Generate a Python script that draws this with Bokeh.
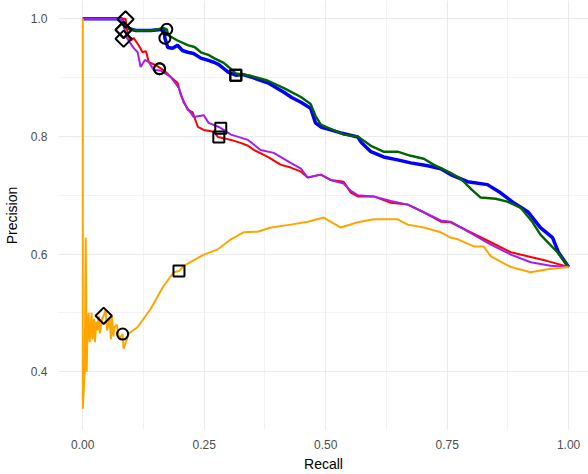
import math
from bokeh.plotting import figure
from bokeh.models import Range1d, FixedTicker
from bokeh.embed import file_html
from bokeh.resources import INLINE

# Precision-recall curves for five models
blue_recall = [0, 0.080, 0.088, 0.109, 0.140, 0.167, 0.169, 0.175, 0.185, 0.195, 0.205, 0.216, 0.228,
               0.243, 0.255, 0.270, 0.280, 0.300, 0.315, 0.330, 0.346, 0.381, 0.400, 0.414, 0.430,
               0.449, 0.469, 0.479, 0.490, 0.510, 0.531, 0.566, 0.574, 0.593, 0.619, 0.648, 0.675,
               0.710, 0.737, 0.757, 0.792, 0.833, 0.860, 0.887, 0.916, 0.942, 0.967, 0.979, 1.0]
blue_precision = [1.0, 1.0, 0.985, 0.980, 0.980, 0.982, 0.967, 0.951, 0.950, 0.955, 0.946, 0.943, 0.941,
                  0.933, 0.930, 0.926, 0.922, 0.909, 0.904, 0.905, 0.901, 0.891, 0.882, 0.875, 0.866,
                  0.858, 0.848, 0.823, 0.816, 0.811, 0.806, 0.799, 0.789, 0.774, 0.765, 0.760, 0.755,
                  0.750, 0.745, 0.735, 0.723, 0.718, 0.704, 0.687, 0.672, 0.645, 0.628, 0.603, 0.578]

green_recall = [0, 0.080, 0.088, 0.109, 0.140, 0.167, 0.173, 0.176, 0.195, 0.216, 0.230, 0.243, 0.260,
                0.270, 0.290, 0.300, 0.315, 0.346, 0.380, 0.414, 0.449, 0.469, 0.479, 0.490, 0.510,
                0.537, 0.566, 0.593, 0.619, 0.648, 0.675, 0.702, 0.722, 0.757, 0.778, 0.800, 0.819,
                0.850, 0.874, 0.901, 0.926, 0.942, 0.977, 1.0]
green_precision = [1.0, 1.0, 0.985, 0.980, 0.980, 0.984, 0.982, 0.972, 0.963, 0.955, 0.952, 0.943, 0.938,
                   0.933, 0.925, 0.918, 0.907, 0.903, 0.895, 0.882, 0.867, 0.855, 0.835, 0.820, 0.813,
                   0.803, 0.800, 0.784, 0.774, 0.774, 0.767, 0.762, 0.752, 0.738, 0.728, 0.710, 0.696,
                   0.694, 0.689, 0.679, 0.654, 0.633, 0.603, 0.578]

red_recall = [0, 0.088, 0.093, 0.099, 0.105, 0.115, 0.123, 0.130, 0.136, 0.150, 0.160, 0.170, 0.181,
              0.195, 0.202, 0.216, 0.226, 0.237, 0.249, 0.270, 0.278, 0.290, 0.305, 0.325, 0.340,
              0.352, 0.381, 0.407, 0.428, 0.449, 0.463, 0.490, 0.510, 0.537, 0.551, 0.566, 0.599,
              0.634, 0.669, 0.702, 0.737, 0.757, 0.798, 0.840, 0.881, 0.922, 0.957, 1.0]
red_precision = [1.0, 1.0, 0.970, 0.963, 0.967, 0.955, 0.943, 0.945, 0.926, 0.921, 0.916, 0.910, 0.901,
                 0.891, 0.870, 0.845, 0.841, 0.816, 0.811, 0.808, 0.799, 0.797, 0.794, 0.789, 0.784,
                 0.777, 0.765, 0.752, 0.747, 0.740, 0.730, 0.735, 0.726, 0.723, 0.705, 0.698, 0.698,
                 0.687, 0.684, 0.671, 0.655, 0.654, 0.637, 0.620, 0.603, 0.595, 0.588, 0.578]

purple_recall = [0, 0.080, 0.091, 0.105, 0.113, 0.119, 0.128, 0.136, 0.146, 0.160, 0.181, 0.198, 0.208,
                 0.228, 0.249, 0.259, 0.280, 0.290, 0.305, 0.340, 0.366, 0.393, 0.428, 0.449, 0.463,
                 0.490, 0.510, 0.537, 0.551, 0.566, 0.599, 0.634, 0.669, 0.702, 0.737, 0.757, 0.798,
                 0.840, 0.881, 0.922, 0.963, 1.0]
purple_precision = [1.0, 1.0, 0.967, 0.950, 0.943, 0.918, 0.930, 0.926, 0.913, 0.912, 0.901, 0.882, 0.857,
                    0.833, 0.836, 0.823, 0.816, 0.811, 0.803, 0.794, 0.777, 0.772, 0.755, 0.745, 0.730,
                    0.735, 0.726, 0.720, 0.708, 0.700, 0.698, 0.690, 0.684, 0.671, 0.657, 0.655, 0.636,
                    0.616, 0.599, 0.586, 0.580, 0.578]

orange_recall = [0, 0, 0.004, 0.006, 0.008, 0.010, 0.012, 0.014, 0.016, 0.018, 0.020, 0.023, 0.025,
                 0.028, 0.030, 0.033, 0.035, 0.040, 0.043, 0.047, 0.050, 0.055, 0.058, 0.060, 0.063,
                 0.065, 0.070, 0.075, 0.082, 0.084, 0.095, 0.113, 0.140, 0.165, 0.187, 0.198, 0.208,
                 0.249, 0.278, 0.305, 0.331, 0.360, 0.387, 0.428, 0.463, 0.496, 0.531, 0.566, 0.599,
                 0.648, 0.669, 0.702, 0.737, 0.757, 0.772, 0.805, 0.825, 0.840, 0.881, 0.922, 0.957,
                 1.0]
orange_precision = [1.0, 0.337, 0.400, 0.628, 0.400, 0.480, 0.500, 0.450, 0.470, 0.500, 0.455, 0.490, 0.450,
                    0.485, 0.470, 0.495, 0.465, 0.490, 0.495, 0.505, 0.470, 0.490, 0.455, 0.495, 0.460,
                    0.475, 0.480, 0.455, 0.464, 0.439, 0.465, 0.476, 0.507, 0.544, 0.569, 0.571, 0.580,
                    0.599, 0.608, 0.625, 0.637, 0.638, 0.645, 0.650, 0.655, 0.662, 0.645, 0.654, 0.659,
                    0.659, 0.650, 0.645, 0.637, 0.628, 0.625, 0.613, 0.613, 0.596, 0.578, 0.569, 0.574,
                    0.578]

# Threshold markers (recall, precision) for each curve
diamond_recall = [0.088, 0.084, 0.084, 0.084, 0.043]
diamond_precision = [0.999, 0.981, 0.981, 0.966, 0.495]
circle_recall = [0.173, 0.169, 0.158, 0.158, 0.082]
circle_precision = [0.982, 0.967, 0.915, 0.915, 0.464]
square_recall = [0.315, 0.315, 0.280, 0.284, 0.198]
square_precision = [0.904, 0.904, 0.799, 0.814, 0.571]

x_ticks = [0, 0.25, 0.5, 0.75, 1.0]
x_tick_labels = ["0.00", "0.25", "0.50", "0.75", "1.00"]
y_ticks = [0.4, 0.6, 0.8, 1.0]
y_tick_labels = ["0.4", "0.6", "0.8", "1.0"]

p = figure(width=588, height=474, output_backend="svg", toolbar_location=None,
           x_range=Range1d(-0.05, 1.041), y_range=Range1d(0.30, 1.031),
           min_border_left=58, min_border_right=0, min_border_top=0, min_border_bottom=42)
p.outline_line_color = None
p.background_fill_color = "white"

p.xaxis.ticker = FixedTicker(ticks=x_ticks, minor_ticks=[0.125, 0.375, 0.625, 0.875])
p.yaxis.ticker = FixedTicker(ticks=y_ticks, minor_ticks=[0.3, 0.5, 0.7, 0.9])
p.xaxis.major_label_overrides = dict(zip(x_ticks, x_tick_labels))
p.yaxis.major_label_overrides = dict(zip(y_ticks, y_tick_labels))
p.xaxis.axis_label = "Recall"
p.yaxis.axis_label = "Precision"

for ax in (p.xaxis, p.yaxis):
    ax.axis_line_color = None
    ax.major_tick_line_color = None
    ax.minor_tick_line_color = None
    ax.major_label_text_font = "Liberation Sans"
    ax.major_label_text_font_size = "12px"
    ax.major_label_text_color = "#4d4d4d"
    ax.axis_label_text_font = "Liberation Sans"
    ax.axis_label_text_font_size = "14px"
    ax.axis_label_text_font_style = "normal"
    ax.axis_label_text_color = "black"
p.xaxis.major_label_standoff = 3
p.xaxis.axis_label_standoff = 4
p.yaxis.major_label_standoff = 5
p.yaxis.axis_label_standoff = 8

for g in (p.xgrid, p.ygrid):
    g.grid_line_color = "#ebebeb"
    g.grid_line_width = 1.1
    g.minor_grid_line_color = "#ebebeb"
    g.minor_grid_line_width = 0.6

p.line(blue_recall, blue_precision, line_color="#0000FF", line_width=3.5)
p.line(green_recall, green_precision, line_color="#006400", line_width=2.4)
p.line(red_recall, red_precision, line_color="#FF0000", line_width=2.0)
p.line(purple_recall, purple_precision, line_color="#A020F0", line_width=2.0)
p.line(orange_recall, orange_precision, line_color="#FFA500", line_width=2.0)

p.scatter(diamond_recall, diamond_precision, marker="square", angle=math.pi / 4, size=11.5,
          fill_color=None, line_color="black", line_width=2)
p.scatter(circle_recall, circle_precision, marker="circle", size=11,
          fill_color=None, line_color="black", line_width=2)
p.scatter(square_recall, square_precision, marker="square", size=11,
          fill_color=None, line_color="black", line_width=2)

open("out.html", "w").write(file_html(p, INLINE))
